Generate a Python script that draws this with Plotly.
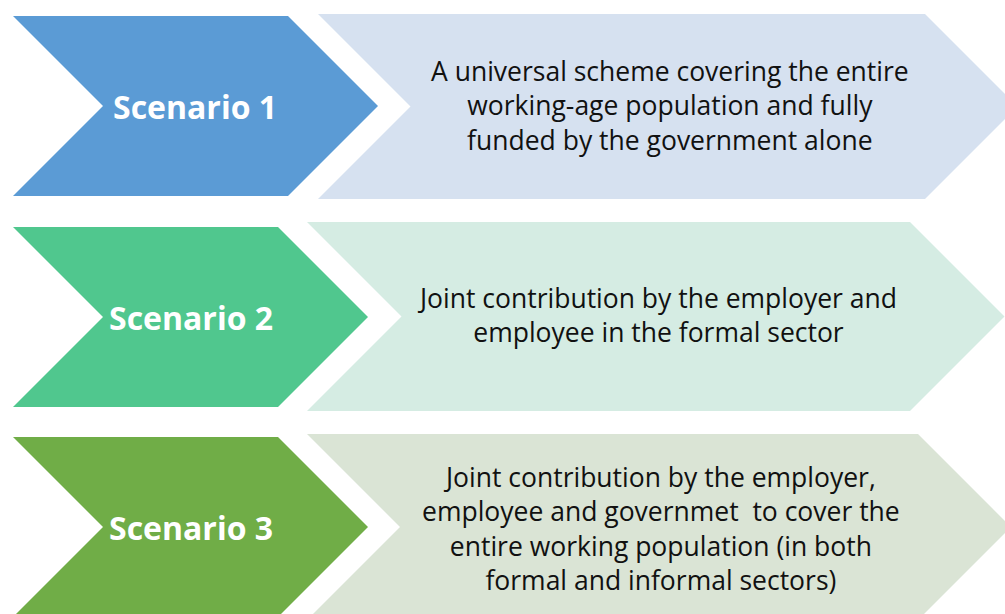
import plotly.graph_objects as go

scenarios = ["Scenario 1", "Scenario 2", "Scenario 3"]
descriptions = [
    ["A universal scheme covering the entire",
     "working-age population and fully",
     "funded by the government alone"],
    ["Joint contribution by the employer and",
     "employee in the formal sector"],
    ["Joint contribution by the employer,",
     "employee and governmet\u00a0 to cover the",
     "entire working population (in both",
     "formal and informal sectors)"],
]
dark_colors = ["#5B9BD5", "#50C78E", "#70AD47"]
light_colors = ["#D6E1F0", "#D5ECE3", "#DAE4D5"]

# chevron geometry per row: (left, top-right corner x, top, bottom)
dark_boxes = [(13, 288, 16, 196), (13, 278, 227, 407), (13, 278, 437, 617)]
light_boxes = [(318, 925, 14, 199), (307, 910, 222, 411), (307, 918, 434, 620)]
label_x = [195, 191, 191]
desc_x = [670, 657, 661]
desc_y = [105, 315, 528]


def chevron(x0, x1, y0, y1):
    ym = (y0 + y1) / 2
    d = (y1 - y0) / 2
    xs = [x0, x1, x1 + d, x1, x0, x0 + d, x0]
    ys = [y0, y0, ym, y1, y1, ym, y0]
    return xs, ys


fig = go.Figure()
annotations = []
for i in range(len(scenarios)):
    xs, ys = chevron(*dark_boxes[i])
    fig.add_trace(go.Scatter(x=xs, y=ys, fill="toself", fillcolor=dark_colors[i],
                             mode="lines", line=dict(width=0), hoverinfo="skip", showlegend=False))
    xs, ys = chevron(*light_boxes[i])
    fig.add_trace(go.Scatter(x=xs, y=ys, fill="toself", fillcolor=light_colors[i],
                             mode="lines", line=dict(width=0), hoverinfo="skip", showlegend=False))
    ym = (dark_boxes[i][2] + dark_boxes[i][3]) / 2
    annotations.append(dict(x=label_x[i], y=ym, xref="x", yref="y", text="<b>" + scenarios[i] + "</b>",
                            showarrow=False, font=dict(family="Open Sans", size=32, color="white")))
    annotations.append(dict(x=desc_x[i], y=desc_y[i], xref="x", yref="y",
                            text="<br>".join(descriptions[i]),
                            showarrow=False, align="center",
                            font=dict(family="Open Sans", size=26.5, color="#111111")))

fig.update_layout(
    width=1005,
    height=614,
    margin=dict(l=0, r=0, t=0, b=0),
    paper_bgcolor="white",
    plot_bgcolor="white",
    xaxis=dict(range=[0, 1005], visible=False, fixedrange=True),
    yaxis=dict(range=[614, 0], visible=False, fixedrange=True),
    annotations=annotations,
    showlegend=False,
)

fig.write_html("out.html", config={"displayModeBar": False},
               post_script="document.body.style.margin='0';document.body.style.overflow='hidden';")
